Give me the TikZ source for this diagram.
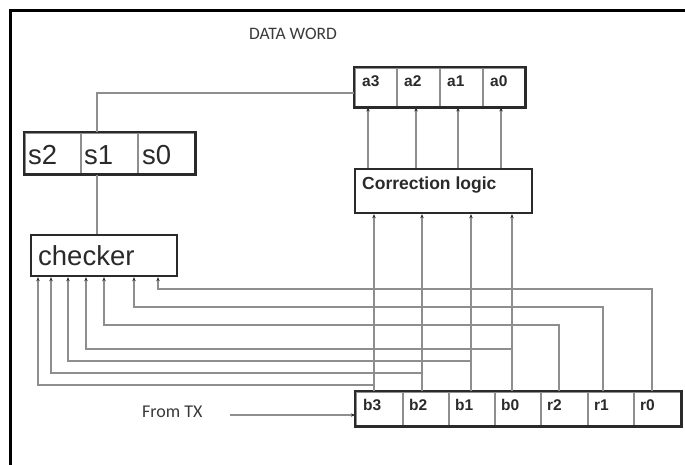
\documentclass[tikz,border=0pt]{standalone}
\usepackage{fontspec}
\setmainfont{Liberation Sans}
\newfontfamily\calib{Carlito}
\usetikzlibrary{arrows.meta}
\definecolor{linec}{HTML}{8E8E8E}
\definecolor{boxc}{HTML}{2A2A2A}
\definecolor{txtc}{HTML}{3A3A3A}
\begin{document}
\begin{tikzpicture}[x=1pt,y=-1pt,
  cell/.style={draw=linec, line width=1.5pt, anchor=north west, inner sep=0pt, minimum height=#1},
  box/.style={draw=boxc, line width=2.2pt, anchor=north west, inner sep=0pt},
  outline/.style={draw=boxc, line width=2.2pt},
  wire/.style={draw=linec, line width=1.7pt},
  arr/.style={wire, -{Stealth[length=4pt,width=3.4pt,color=boxc]}},
  blab/.style={anchor=base west, inner sep=0pt, font=\fontsize{15.5}{17}\selectfont\bfseries, text=boxc},
  biglab/.style={anchor=base west, inner sep=0pt, font=\fontsize{27.5}{29}\selectfont, text=boxc},
  cal/.style={anchor=base west, inner sep=0pt, font=\calib\fontsize{17.5}{19}\selectfont, text=txtc}
]
\useasboundingbox (0,0) rectangle (685,464);
\fill[white] (0,0) rectangle (685,464);
% frame
\draw[black, line width=3pt] (10,470) -- (10,10) -- (690,10);

% DATA WORD title
\node[cal] (title) at (249,39) {DATA WORD};

% top register a3..a0
\node[cell=39pt, minimum width=42pt] (a3) at (354,67) {};
\node[cell=39pt, minimum width=43pt] (a2) at (396,67) {};
\node[cell=39pt, minimum width=43pt] (a1) at (439,67) {};
\node[cell=39pt, minimum width=42pt] (a0) at (482,67) {};
\draw[outline] (a3.north west) rectangle (a0.south east);
\node[blab] (ta3) at (362,86) {a3};
\node[blab] (ta2) at (404,86) {a2};
\node[blab] (ta1) at (447,86) {a1};
\node[blab] (ta0) at (490,86) {a0};

% syndrome register s2..s0
\node[cell=41pt, minimum width=56pt] (s2) at (24,132) {};
\node[cell=41pt, minimum width=57pt] (s1) at (80,132) {};
\node[cell=41pt, minimum width=57pt] (s0) at (137,132) {};
\draw[outline] (s2.north west) rectangle (s0.south east);
\node[biglab] (ts2) at (28,164) {s2};
\node[biglab] (ts1) at (84,164) {s1};
\node[biglab] (ts0) at (142,164) {s0};

% checker
\node[box, minimum width=146pt, minimum height=41pt] (checker) at (30,234) {};
\node[biglab] (tchecker) at (38,265) {checker};

% correction logic
\node[box, minimum width=177pt, minimum height=44pt] (corr) at (354,168) {};
\node[anchor=base west, inner sep=0pt, font=\fontsize{17.5}{19}\selectfont\bfseries, text=boxc] (tcorr) at (362,189) {Correction logic};

% received register
\node[cell=34pt, minimum width=47pt] (b3) at (355,391) {};
\node[cell=34pt, minimum width=46pt] (b2) at (402,391) {};
\node[cell=34pt, minimum width=46pt] (b1) at (448,391) {};
\node[cell=34pt, minimum width=46pt] (b0) at (494,391) {};
\node[cell=34pt, minimum width=47pt] (r2) at (540,391) {};
\node[cell=34pt, minimum width=46pt] (r1) at (587,391) {};
\node[cell=34pt, minimum width=47pt] (r0) at (633,391) {};
\draw[outline] (b3.north west) rectangle (r0.south east);
\node[blab] (tb3) at (363,410) {b3};
\node[blab] (tb2) at (409,410) {b2};
\node[blab] (tb1) at (455,410) {b1};
\node[blab] (tb0) at (501,410) {b0};
\node[blab] (tr2) at (547,410) {r2};
\node[blab] (tr1) at (594,410) {r1};
\node[blab] (tr0) at (640,410) {r0};

% From TX
\node[cal, font=\calib\fontsize{18}{20}\selectfont] (fromtx) at (142,417) {From TX};
\coordinate (txstart) at (230,415);
\draw[arr] (txstart) -- (txstart -| b3.west);

% syndrome wiring
\coordinate (sx) at (97,93);
\draw[wire] (s1.north -| sx) -- (sx) -- (sx -| a3.west);
\draw[wire] (s1.south -| sx) -- (checker.north -| sx);

% correction logic -> data word
\foreach \n/\x in {a3/368,a2/416,a1/458,a0/501}{
  \coordinate (c\n) at (\x,0);
  \draw[arr] (corr.north -| c\n) -- (\n.south -| c\n);
}

% received bits -> correction logic
\foreach \n/\x in {b3/374,b2/422,b1/471,b0/512}{
  \coordinate (v\n) at (\x,0);
  \draw[arr] (\n.north -| v\n) -- (corr.south -| v\n);
}

% received bits -> checker
\foreach \n/\x/\hx/\hy in {b3/374/38/385, b2/422/51/373, b1/471/68/361, b0/512/86/349, r2/559/104/325, r1/603/134/307, r0/652/158/289}{
  \coordinate (u\n) at (\x,0);
  \coordinate (h\n) at (\hx,\hy);
  \draw[arr] (\n.north -| u\n) -- (u\n |- h\n) -- (h\n) -- (checker.south -| h\n);
}
\end{tikzpicture}
\end{document}
